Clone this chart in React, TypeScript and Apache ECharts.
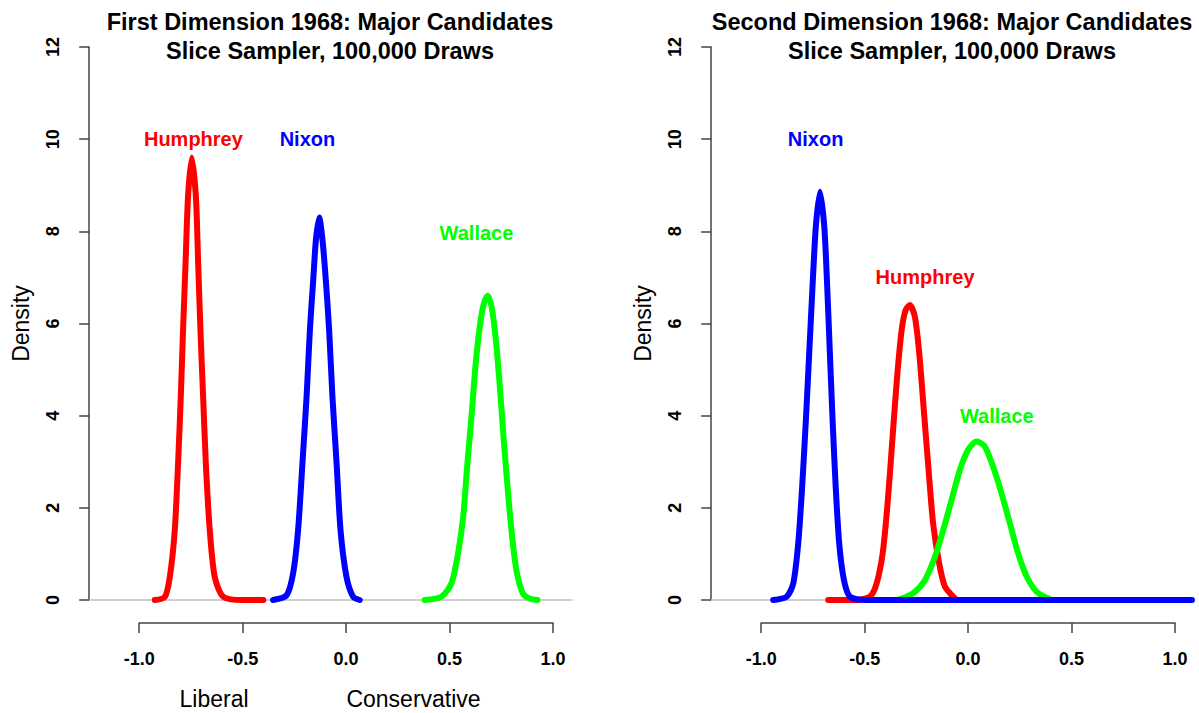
import React, { useEffect, useRef } from "react";
import * as echarts from "echarts";

// ---------- data ----------
const xTicks = [-1, -0.5, 0, 0.5, 1];
const yTicks = [0, 2, 4, 6, 8, 10, 12];

const titlesLeft = ["First Dimension 1968: Major Candidates", "Slice Sampler, 100,000 Draws"];
const titlesRight = ["Second Dimension 1968: Major Candidates", "Slice Sampler, 100,000 Draws"];
const axisYName = "Density";
const axisXNotes = ["Liberal", "Conservative"];

// First dimension densities [x, density]
const dim1Humphrey = [
  [-0.925, 0], [-0.876, 0.07], [-0.852, 0.5], [-0.828, 1.52], [-0.812, 2.97], [-0.799, 4.41],
  [-0.788, 5.86], [-0.776, 7.31], [-0.764, 8.75], [-0.746, 9.6], [-0.726, 8.75], [-0.715, 7.31],
  [-0.704, 5.86], [-0.691, 4.41], [-0.678, 2.97], [-0.659, 1.52], [-0.635, 0.5], [-0.594, 0.07],
  [-0.5, 0], [-0.4, 0],
];
const dim1Nixon = [
  [-0.353, 0], [-0.288, 0.1], [-0.256, 0.58], [-0.232, 1.52], [-0.211, 2.97], [-0.191, 4.41],
  [-0.175, 5.86], [-0.159, 6.94], [-0.146, 7.81], [-0.13, 8.3], [-0.114, 7.81], [-0.098, 6.94],
  [-0.082, 5.86], [-0.066, 4.41], [-0.046, 2.97], [-0.027, 1.52], [0.002, 0.5], [0.034, 0.07],
  [0.066, 0],
];
const dim1Wallace = [
  [0.38, 0], [0.461, 0.07], [0.509, 0.36], [0.541, 1.01], [0.566, 1.81], [0.585, 2.89],
  [0.606, 3.98], [0.625, 5.06], [0.646, 5.93], [0.666, 6.44], [0.684, 6.6], [0.703, 6.37],
  [0.724, 5.64], [0.743, 4.63], [0.762, 3.47], [0.783, 2.31], [0.804, 1.3], [0.826, 0.58],
  [0.855, 0.14], [0.888, 0.03], [0.925, 0],
];

// Second dimension densities [x, density]
const dim2Humphrey = [
  [-0.676, 0], [-0.55, 0], [-0.475, 0.07], [-0.442, 0.36], [-0.413, 1.01], [-0.389, 2.1],
  [-0.365, 3.54], [-0.343, 4.85], [-0.321, 5.86], [-0.302, 6.29], [-0.281, 6.4], [-0.257, 6.14],
  [-0.236, 5.35], [-0.214, 4.12], [-0.191, 2.82], [-0.169, 1.66], [-0.14, 0.8], [-0.112, 0.29],
  [-0.072, 0.07], [-0.056, 0],
];
const dim2Wallace = [
  [-0.34, 0], [-0.265, 0.15], [-0.209, 0.43], [-0.16, 0.94], [-0.12, 1.52], [-0.08, 2.17],
  [-0.04, 2.82], [0.0, 3.26], [0.041, 3.44], [0.081, 3.33], [0.121, 2.89], [0.162, 2.31],
  [0.202, 1.66], [0.242, 1.01], [0.283, 0.51], [0.331, 0.18], [0.379, 0.05], [0.404, 0],
];
const dim2Nixon = [
  [-0.942, 0], [-0.877, 0.07], [-0.845, 0.36], [-0.821, 1.23], [-0.802, 2.46], [-0.784, 3.91],
  [-0.768, 5.35], [-0.752, 6.8], [-0.736, 8.1], [-0.716, 8.86], [-0.695, 8.1], [-0.681, 6.8],
  [-0.668, 5.35], [-0.655, 3.91], [-0.64, 2.46], [-0.623, 1.23], [-0.6, 0.43], [-0.571, 0.07],
  [-0.5, 0], [0, 0], [0.5, 0], [1.082, 0],
];

// Candidate name labels [x, y, name]
const dim1Labels = [
  [-0.738, 10, "Humphrey"],
  [-0.187, 10, "Nixon"],
  [0.63, 7.97, "Wallace"],
];
const dim2Labels = [
  [-0.737, 10, "Nixon"],
  [-0.208, 7, "Humphrey"],
  [0.139, 4, "Wallace"],
];

// Plot-region x extent (R's 4% padded range) used for the data grid and grey zero line
const plotXExtent = [-1.2417, 1.0947];

const RED = "#ff0000";
const BLUE = "#0000ff";
const GREEN = "#00ff00";
const colorOf: Record<string, string> = { Humphrey: RED, Nixon: BLUE, Wallace: GREEN };

const FONT = "'Liberation Sans', Arial, Helvetica, sans-serif";

export default function App() {
  const ref = useRef<HTMLDivElement>(null);

  useEffect(() => {
    if (!ref.current) return;
    const chart = echarts.init(ref.current, undefined, { renderer: "svg" });

    const axisColor = "#444";
    const TOP = 47;
    const H = 553;
    const tickW = 413.8; // width between x = -1 and x = 1
    const plotW = (tickW * (plotXExtent[1] - plotXExtent[0])) / 2;
    const leftTick = [139.2, 761.2];
    const leftPlot = leftTick.map((l) => l - (tickW * (xTicks[0] - plotXExtent[0])) / 2);

    const mkX = (gridIndex: number) => ({
      type: "value",
      gridIndex,
      min: xTicks[0],
      max: xTicks[xTicks.length - 1],
      interval: 0.5,
      offset: 23,
      axisLine: { show: true, onZero: false, lineStyle: { color: axisColor, width: 1.5 } },
      axisTick: { show: true, length: 10, lineStyle: { color: axisColor, width: 1.5 } },
      splitLine: { show: false },
      axisLabel: {
        fontSize: 18,
        fontWeight: "bold",
        color: "#000",
        fontFamily: FONT,
        margin: 27,
        formatter: (v: number) => v.toFixed(1),
      },
    });
    const mkY = (gridIndex: number) => ({
      type: "value",
      gridIndex,
      min: yTicks[0],
      max: yTicks[yTicks.length - 1],
      interval: 2,
      offset: leftTick[0] - leftPlot[0],
      name: axisYName,
      nameLocation: "middle",
      nameGap: 57,
      nameTextStyle: { fontSize: 23, color: "#000", fontFamily: FONT },
      axisLine: { show: true, onZero: false, lineStyle: { color: axisColor, width: 1.5 } },
      axisTick: { show: true, length: 10, lineStyle: { color: axisColor, width: 1.5 } },
      splitLine: { show: false },
      axisLabel: {
        fontSize: 18,
        fontWeight: "bold",
        color: "#000",
        fontFamily: FONT,
        rotate: 90,
        margin: 27,
      },
    });
    const hiddenX = (gridIndex: number) => ({
      type: "value",
      gridIndex,
      min: plotXExtent[0],
      max: plotXExtent[1],
      show: false,
      splitLine: { show: false },
    });
    const hiddenY = (gridIndex: number) => ({
      type: "value",
      gridIndex,
      min: yTicks[0],
      max: yTicks[yTicks.length - 1],
      show: false,
      splitLine: { show: false },
    });

    const curve = (name: string, data: number[][], ai: number) => ({
      type: "line",
      name,
      xAxisIndex: ai,
      yAxisIndex: ai,
      data,
      symbol: "none",
      smooth: 0.25,
      clip: false,
      lineStyle: { color: colorOf[name], width: 6, cap: "round", join: "round" },
      z: 3,
    });
    const zeroLine = (ai: number) => ({
      type: "line",
      xAxisIndex: ai,
      yAxisIndex: ai,
      data: [
        [plotXExtent[0], 0],
        [plotXExtent[1], 0],
      ],
      symbol: "none",
      clip: false,
      lineStyle: { color: "#cfcfcf", width: 2 },
      z: 1,
    });
    const labels = (data: any[][], ai: number) => ({
      type: "scatter",
      xAxisIndex: ai,
      yAxisIndex: ai,
      symbolSize: 1,
      itemStyle: { color: "rgba(0,0,0,0)" },
      data: data.map((d) => ({
        value: [d[0], d[1]],
        name: d[2],
        label: { color: colorOf[d[2]] },
      })),
      label: {
        show: true,
        position: "inside",
        formatter: "{b}",
        fontSize: 20,
        fontWeight: "bold",
        fontFamily: FONT,
        textBorderWidth: 0,
        textBorderColor: "transparent",
        textShadowBlur: 0,
        opacity: 1,
      },
      z: 4,
    });

    const titleText = (lines: string[], cx: number) =>
      lines.map((t, i) => ({
        type: "text",
        x: cx,
        y: 22 + i * 28.5,
        style: {
          text: t,
          textAlign: "center",
          textVerticalAlign: "middle",
          font: `bold 23.5px ${FONT}`,
          fill: "#000",
        },
      }));

    const noteX = [214, 413.5];

    const option: any = {
      animation: false,
      backgroundColor: "#fff",
      grid: [
        { left: leftTick[0], top: TOP, width: tickW, height: H },
        { left: leftPlot[0], top: TOP, width: plotW, height: H },
        { left: leftTick[1], top: TOP, width: tickW, height: H },
        { left: leftPlot[1], top: TOP, width: plotW, height: H },
      ],
      xAxis: [mkX(0), hiddenX(1), mkX(2), hiddenX(3)],
      yAxis: [mkY(0), hiddenY(1), mkY(2), hiddenY(3)],
      series: [
        zeroLine(1),
        curve("Humphrey", dim1Humphrey, 1),
        curve("Nixon", dim1Nixon, 1),
        curve("Wallace", dim1Wallace, 1),
        labels(dim1Labels, 1),
        zeroLine(3),
        curve("Humphrey", dim2Humphrey, 3),
        curve("Wallace", dim2Wallace, 3),
        curve("Nixon", dim2Nixon, 3),
        labels(dim2Labels, 3),
      ],
      graphic: [
        ...titleText(titlesLeft, 330),
        ...titleText(titlesRight, 952),
        ...axisXNotes.map((t, i) => ({
          type: "text",
          x: noteX[i],
          y: 699,
          style: {
            text: t,
            textAlign: "center",
            textVerticalAlign: "middle",
            font: `23px ${FONT}`,
            fill: "#000",
          },
        })),
      ],
    };

    chart.setOption(option);
    return () => chart.dispose();
  }, []);

  return (
    <div
      ref={ref}
      style={{ position: "absolute", left: 0, top: 0, width: 1199, height: 713, background: "#fff" }}
    />
  );
}
